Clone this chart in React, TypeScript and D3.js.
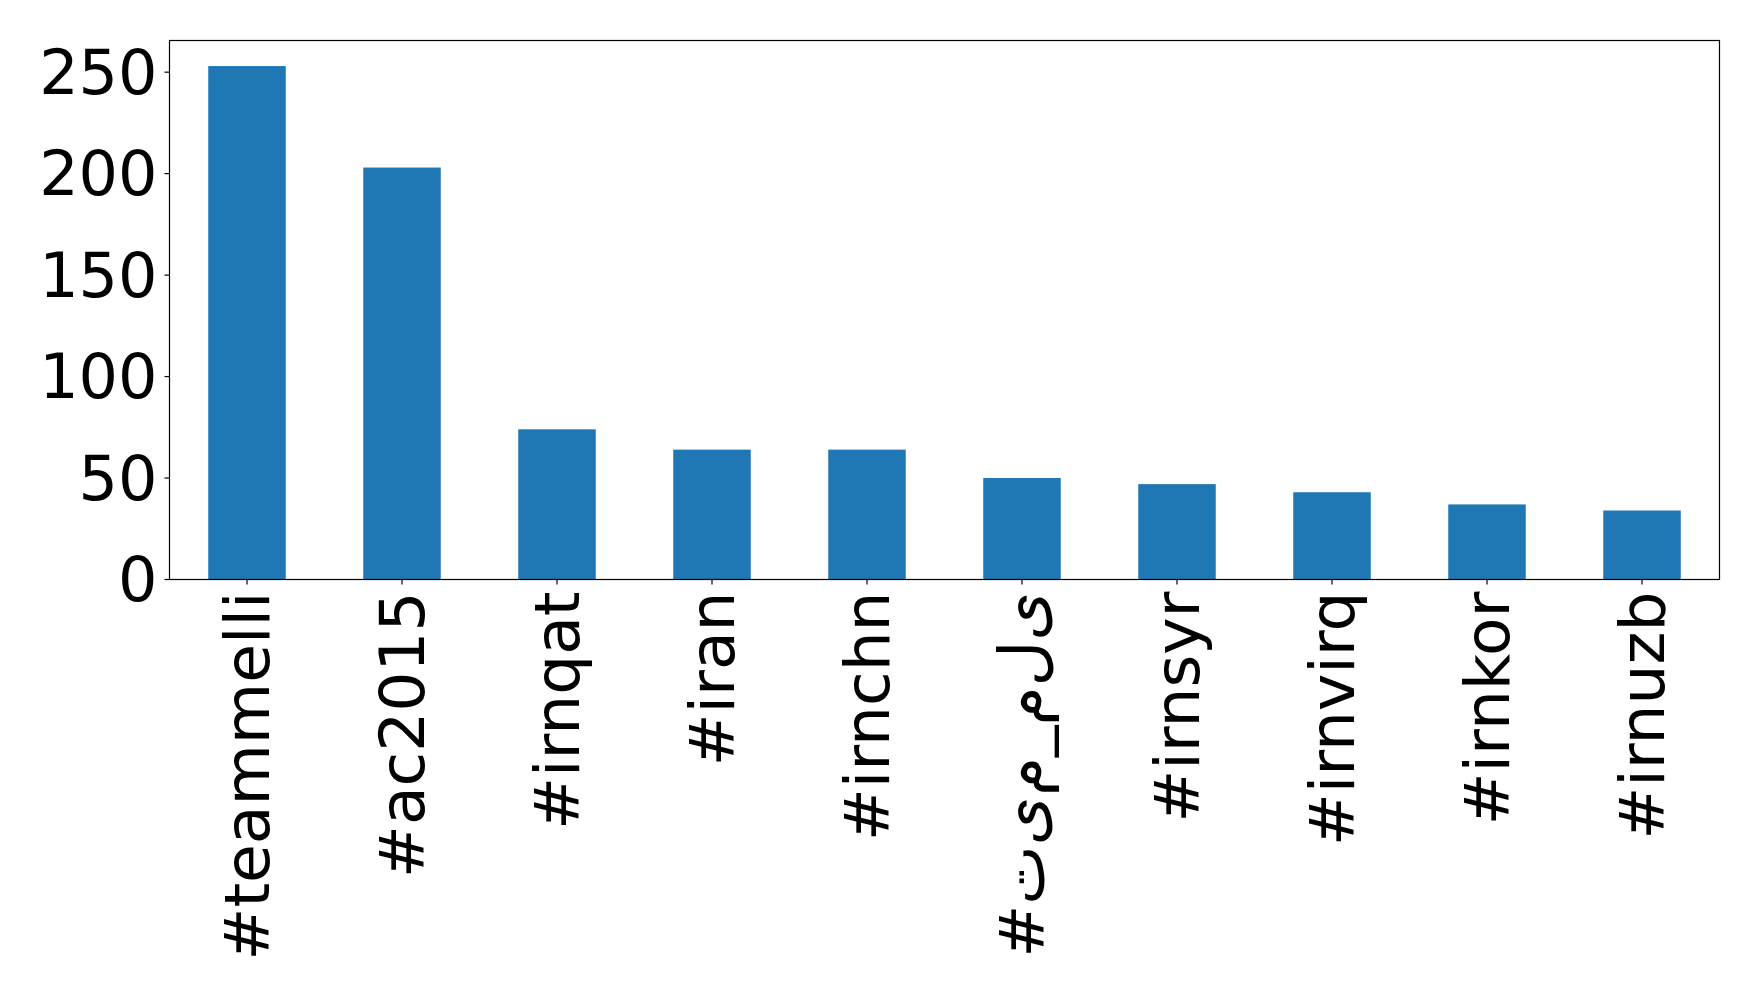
import React from "react";
import * as d3 from "d3";

const categories = [
  "#teammelli",
  "#ac2015",
  "#irnqat",
  "#iran",
  "#irnchn",
  "#\u062A\u200C\u06CC\u200C\u0645_\u0645\u200C\u0644\u200C\u06CC",
  "#irnsyr",
  "#irnvirq",
  "#irnkor",
  "#irnuzb",
];
const values = [253, 203, 74, 64, 64, 50, 47, 43, 37, 34];
const yTicks = [0, 50, 100, 150, 200, 250];

const W = 1758;
const H = 994;
const M = { left: 169.5, right: 1719.5, top: 40.5, bottom: 579.5 };
const FONT = "DejaVu Sans";
const FSX = 63;
const FSY = 62;

export default function App() {
  const x = d3
    .scaleBand<string>()
    .domain(categories)
    .range([M.left, M.right])
    .paddingInner(0.5)
    .paddingOuter(0.25);
  const y = d3.scaleLinear().domain([0, 265.6]).range([M.bottom, M.top]);

  return (
    <svg
      width={W}
      height={H}
      style={{ position: "absolute", left: 0, top: 0, background: "#fff" }}
      fontFamily={FONT}
    >
      <rect x={0} y={0} width={W} height={H} fill="#fff" />
      {categories.map((c, i) => (
        <rect
          key={c}
          x={x(c)}
          y={y(values[i])}
          width={x.bandwidth()}
          height={y(0) - y(values[i])}
          fill="#1f77b4"
        />
      ))}
      <rect
        x={M.left}
        y={M.top}
        width={M.right - M.left}
        height={M.bottom - M.top}
        fill="none"
        stroke="#000"
        strokeWidth={1.2}
      />
      {yTicks.map((t) => (
        <g key={t}>
          <line x1={M.left - 5} x2={M.left} y1={y(t)} y2={y(t)} stroke="#000" strokeWidth={1.2} />
          <text
            x={M.left - 12}
            y={y(t)}
            textAnchor="end"
            dominantBaseline="central"
            fontSize={FSY}
            fill="#000"
          >
            {t}
          </text>
        </g>
      ))}
      {categories.map((c) => {
        const cx = (x(c) as number) + x.bandwidth() / 2;
        return (
          <g key={c}>
            <line x1={cx} x2={cx} y1={M.bottom} y2={M.bottom + 5} stroke="#000" strokeWidth={1.2} />
            <text
              transform={`translate(${cx},${M.bottom + 12}) rotate(-90)`}
              textAnchor="end"
              dominantBaseline="central"
              fontSize={FSX}
              fill="#000"
              style={{ unicodeBidi: "bidi-override", direction: "ltr" }}
            >
              {c}
            </text>
          </g>
        );
      })}
    </svg>
  );
}
